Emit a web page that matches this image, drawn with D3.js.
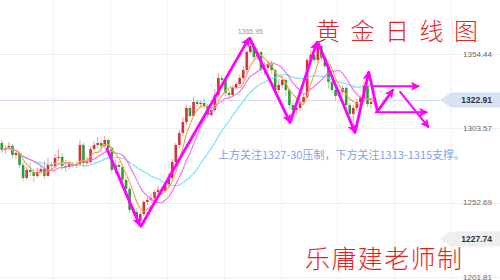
<!DOCTYPE html>
<html>
<head>
<meta charset="utf-8">
<script src="https://cdn.jsdelivr.net/npm/d3@7/dist/d3.min.js"></script>
<style>
  html, body { margin: 0; padding: 0; background: #fff; overflow: hidden; }
  svg { display: block; }
</style>
</head>
<body>
<svg id="chart" width="500" height="280"></svg>
<script>
// Daily gold candles (oldest first)
const opens = [1293.5,1288.7,1290.1,1291.5,1285.3,1286.7,1278.5,1269.6,1275.1,1273.7,
  1271.0,1273.7,1275.7,1271.0,1278.5,1277.8,1283.3,1284.0,1277.8,1277.1,
  1279.2,1277.8,1279.2,1292.2,1279.8,1280.5,1289.4,1292.2,1293.5,1291.5,
  1295.6,1290.1,1275.1,1278.5,1277.1,1268.2,1262.1,1247.7,1246.3,1240.1,
  1244.9,1253.2,1254.5,1255.9,1260.0,1261.4,1260.7,1264.8,1269.6,1280.5,
  1292.2,1300.4,1307.9,1317.5,1312.0,1321.6,1320.2,1320.9,1318.9,1312.7,
  1316.1,1326.4,1338.0,1336.7,1327.8,1326.4,1331.2,1333.9,1338.0,1343.5,
  1355.8,1359.9,1352.4,1355.8,1343.5,1344.9,1347.6,1343.5,1329.8,1333.2,
  1336.7,1329.8,1319.5,1316.1,1317.5,1321.6,1325.0,1350.3,1353.8,1350.3,
  1359.9,1351.7,1346.2,1335.3,1329.8,1325.7,1328.4,1331.2,1319.5,1313.4,
  1317.5,1321.6,1324.3,1333.2,1320.2,1321.6];
const highs = [1295.6,1292.2,1294.2,1292.9,1288.7,1287.4,1280.5,1277.1,1280.5,1275.7,
  1276.4,1277.8,1281.2,1283.3,1280.5,1286.0,1289.4,1286.7,1281.9,1281.2,
  1280.5,1281.2,1295.6,1293.5,1284.0,1291.5,1294.9,1297.6,1295.6,1298.3,
  1297.0,1291.5,1282.6,1281.2,1278.5,1270.3,1263.4,1249.7,1249.0,1246.3,
  1254.5,1257.3,1258.6,1261.4,1264.1,1263.4,1266.8,1273.0,1282.6,1293.5,
  1302.4,1311.3,1319.5,1319.5,1325.0,1323.0,1322.3,1324.3,1320.2,1318.2,
  1330.5,1341.4,1340.1,1338.0,1329.8,1332.5,1335.3,1340.1,1346.2,1357.2,
  1365.95,1362.0,1358.6,1356.5,1349.0,1349.7,1350.3,1344.2,1337.3,1339.4,
  1338.0,1331.2,1321.6,1319.5,1323.6,1327.1,1351.7,1357.2,1357.9,1362.7,
  1361.3,1353.1,1347.6,1337.3,1331.2,1330.5,1333.2,1332.5,1320.9,1319.5,
  1323.6,1326.4,1336.0,1342.1,1324.3,1325.0];
const lows = [1286.7,1286.0,1288.7,1283.3,1282.6,1276.4,1267.5,1268.2,1271.0,1266.8,
  1269.6,1272.3,1268.9,1270.3,1275.7,1276.4,1281.2,1275.1,1273.7,1275.7,
  1276.4,1276.4,1277.8,1277.1,1277.8,1279.2,1288.0,1290.1,1289.4,1290.1,
  1288.0,1273.0,1272.3,1274.4,1266.2,1259.3,1245.6,1243.5,1240.8,1236.7,
  1243.5,1251.1,1252.5,1254.5,1258.6,1258.0,1259.3,1263.4,1268.2,1279.2,
  1290.1,1298.3,1305.8,1310.6,1311.3,1318.2,1317.5,1316.8,1310.6,1311.3,
  1314.8,1325.0,1334.6,1325.7,1323.6,1325.0,1329.8,1332.5,1336.7,1342.1,
  1354.4,1350.3,1351.0,1341.4,1340.1,1342.8,1340.8,1327.1,1327.8,1331.2,
  1325.7,1316.8,1307.9,1313.4,1315.4,1319.5,1323.6,1347.6,1348.3,1348.3,
  1349.7,1344.2,1331.2,1327.8,1322.3,1324.3,1326.4,1313.4,1311.3,1301.1,
  1315.4,1320.2,1323.0,1318.2,1317.5,1319.5];
const closes = [1288.7,1290.1,1291.5,1285.3,1286.7,1278.5,1269.6,1275.1,1273.7,1271.0,
  1273.7,1275.7,1271.0,1278.5,1277.8,1283.3,1284.0,1277.8,1277.1,1279.2,
  1277.8,1279.2,1292.2,1279.8,1280.5,1289.4,1292.2,1293.5,1291.5,1295.6,
  1290.1,1275.1,1278.5,1277.1,1268.2,1262.1,1247.7,1246.3,1242.2,1244.9,
  1253.2,1254.5,1255.9,1260.0,1261.4,1260.7,1264.8,1269.6,1280.5,1292.2,
  1300.4,1307.9,1317.5,1312.0,1321.6,1320.2,1320.9,1318.9,1312.7,1316.1,
  1326.4,1338.0,1336.7,1327.8,1326.4,1331.2,1333.9,1338.0,1343.5,1355.8,
  1359.9,1352.4,1355.8,1343.5,1344.9,1347.6,1343.5,1329.8,1333.2,1336.7,
  1329.8,1319.5,1316.1,1317.5,1321.6,1325.0,1350.3,1353.8,1350.3,1359.9,
  1351.7,1346.2,1335.3,1329.8,1325.7,1328.4,1331.2,1319.5,1313.4,1317.5,
  1321.6,1324.3,1333.2,1320.2,1321.6,1322.91];

// Moving averages drawn over the candles
const maPeriods = [20, 10, 5];
const maColors = ["#6fe3ef", "#f466f4", "#f7a04a"];

// Price axis
const priceTicks = [1201.81, 1252.69, 1303.57, 1354.44];
const markPrice = 1227.74;

// Vertical grid, in candle positions
const gridSlots = [14.5, 30.5, 46.5, 62.5, 78.5, 94.5, 110.5, 126.5];

// Hand-drawn trend arrows: [candle position, price] pairs
const trendArrows = [
  [[29.6, 1289.5], [38.8, 1237.5]],
  [[39.2, 1236.5], [69.5, 1364.8]],
  [[69.9, 1365.0], [81.1, 1308.0]],
  [[81.2, 1307.5], [88.7, 1362.2]],
  [[89.1, 1362.0], [99.4, 1301.0]],
  [[99.5, 1300.8], [103.3, 1341.6]],
  [[103.4, 1341.8], [105.8, 1315.2], [110.1, 1329.6]]
];
const guideArrows = [
  [[104.3, 1332.4], [117.3, 1332.4]],
  [[105.3, 1314.6], [119.6, 1314.6]],
  [[112.2, 1328.6], [120.1, 1304.6]]
];

const titleText = "黄金日线图";
const signText = "乐庸建老师制";
const noteText = "上方关注1327-30压制，下方关注1313-1315支撑。";

const W = 500, H = 280;
const svg = d3.select("#chart");

const x = d3.scaleLinear().domain([0, closes.length - 1]).range([1.8, 374.6]);
const y = d3.scaleLinear().domain([priceTicks[0], priceTicks[3]]).range([277, 54]);

const candles = closes.map((c, i) => ({ i, o: opens[i], h: highs[i], l: lows[i], c }));

// grid
const grid = svg.append("g");
grid.selectAll("line.h").data(priceTicks).join("line")
  .attr("x1", 0).attr("x2", W)
  .attr("y1", d => Math.round(y(d)) + 0.5).attr("y2", d => Math.round(y(d)) + 0.5)
  .attr("stroke", "#efefef").attr("stroke-width", 1);
grid.selectAll("line.v").data(gridSlots).join("line")
  .attr("x1", d => Math.round(x(d)) + 0.5).attr("x2", d => Math.round(x(d)) + 0.5)
  .attr("y1", 0).attr("y2", H)
  .attr("stroke", "#f2f2f2").attr("stroke-width", 1);

// last price line
const last = closes[closes.length - 1];
svg.append("line")
  .attr("x1", 0).attr("x2", 440)
  .attr("y1", Math.round(y(last)) + 0.5).attr("y2", Math.round(y(last)) + 0.5)
  .attr("stroke", "#cfe0f6").attr("stroke-width", 1.2);

// candles
const up = "#d8313a", down = "#2f9e3a";
const upWick = "#ee9aa0", downWick = "#9fd3a4";
const cg = svg.append("g");
cg.selectAll("line").data(candles).join("line")
  .attr("x1", d => x(d.i)).attr("x2", d => x(d.i))
  .attr("y1", d => y(d.h)).attr("y2", d => y(d.l))
  .attr("stroke", d => d.c >= d.o ? upWick : downWick)
  .attr("stroke-width", 1);
const bw = 2.6;
cg.selectAll("rect").data(candles).join("rect")
  .attr("x", d => x(d.i) - bw / 2)
  .attr("width", bw)
  .attr("y", d => y(Math.max(d.o, d.c)))
  .attr("height", d => Math.max(1, Math.abs(y(d.o) - y(d.c))))
  .attr("fill", d => d.c >= d.o ? up : down);

// moving averages
const maLine = d3.line().x(d => x(d[0])).y(d => y(d[1])).curve(d3.curveMonotoneX);
maPeriods.forEach((p, k) => {
  const pts = closes.map((c, i) => [i, d3.mean(closes.slice(Math.max(0, i - p + 1), i + 1))]);
  svg.append("path").attr("d", maLine(pts))
    .attr("fill", "none").attr("stroke", maColors[k]).attr("stroke-width", 1.1);
});

// arrow heads
const defs = svg.append("defs");
defs.append("marker").attr("id", "head")
  .attr("markerUnits", "userSpaceOnUse")
  .attr("viewBox", "0 0 10 10").attr("refX", 8).attr("refY", 5)
  .attr("markerWidth", 11).attr("markerHeight", 9).attr("orient", "auto")
  .append("path").attr("d", "M0,0 L10,5 L0,10 L2,5 Z").attr("fill", "#ff00ff");

const arrowLine = d3.line().x(d => x(d[0])).y(d => y(d[1]));
const ag = svg.append("g");
ag.selectAll("path.t").data(trendArrows).join("path")
  .attr("d", arrowLine).attr("fill", "none")
  .attr("stroke", "#ff00ff").attr("stroke-width", 2.8)
  .attr("stroke-linejoin", "round").attr("stroke-linecap", "round")
  .attr("marker-end", "url(#head)");
ag.selectAll("path.g").data(guideArrows).join("path")
  .attr("d", arrowLine).attr("fill", "none")
  .attr("stroke", "#ff00ff").attr("stroke-width", 2)
  .attr("stroke-linecap", "round")
  .attr("marker-end", "url(#head)");

// peak label
const peakIdx = d3.maxIndex(highs);
svg.append("text")
  .attr("x", x(peakIdx)).attr("y", y(highs[peakIdx]) - 3)
  .attr("text-anchor", "middle")
  .attr("font-family", "Liberation Sans, Arial, sans-serif")
  .attr("font-size", 7).attr("fill", "#9a9a9a")
  .text(d3.format(".2f")(highs[peakIdx]));

// price axis labels
const numFont = "Liberation Sans, Arial, sans-serif";
svg.selectAll("text.tick").data(priceTicks).join("text")
  .attr("x", 492).attr("y", d => y(d)).attr("dy", "0.35em")
  .attr("text-anchor", "end")
  .attr("font-family", numFont).attr("font-size", 8).attr("fill", "#666")
  .text(d => d3.format(".2f")(d));

// price tags
function tag(price, fill) {
  const cy = y(price);
  const g = svg.append("g");
  g.append("path")
    .attr("d", `M440,${cy} L451,${cy - 7.5} L500,${cy - 7.5} L500,${cy + 7.5} L451,${cy + 7.5} Z`)
    .attr("fill", fill);
  g.append("text")
    .attr("x", 492).attr("y", cy).attr("dy", "0.35em")
    .attr("text-anchor", "end")
    .attr("font-family", numFont).attr("font-size", 8.5).attr("font-weight", "bold")
    .attr("fill", "#333")
    .text(d3.format(".2f")(price));
}
tag(last, "#d8e4f5");
tag(markPrice, "#eeeeee");

// texts
const cjk = "Noto Sans CJK SC, sans-serif";
svg.append("text")
  .attr("x", 316).attr("y", 40)
  .attr("font-family", cjk).attr("font-size", 24).attr("font-weight", 300)
  .attr("letter-spacing", 10.5).attr("fill", "#ea1c24")
  .text(titleText);
svg.append("text")
  .attr("x", 305).attr("y", 268)
  .attr("font-family", cjk).attr("font-size", 25).attr("font-weight", 300)
  .attr("letter-spacing", 1.4).attr("fill", "#ea1c24")
  .text(signText);
svg.append("text")
  .attr("x", 218).attr("y", 159)
  .attr("font-family", cjk).attr("font-size", 11)
  .attr("fill", "#7fa2ea")
  .text(noteText);
</script>
</body>
</html>
